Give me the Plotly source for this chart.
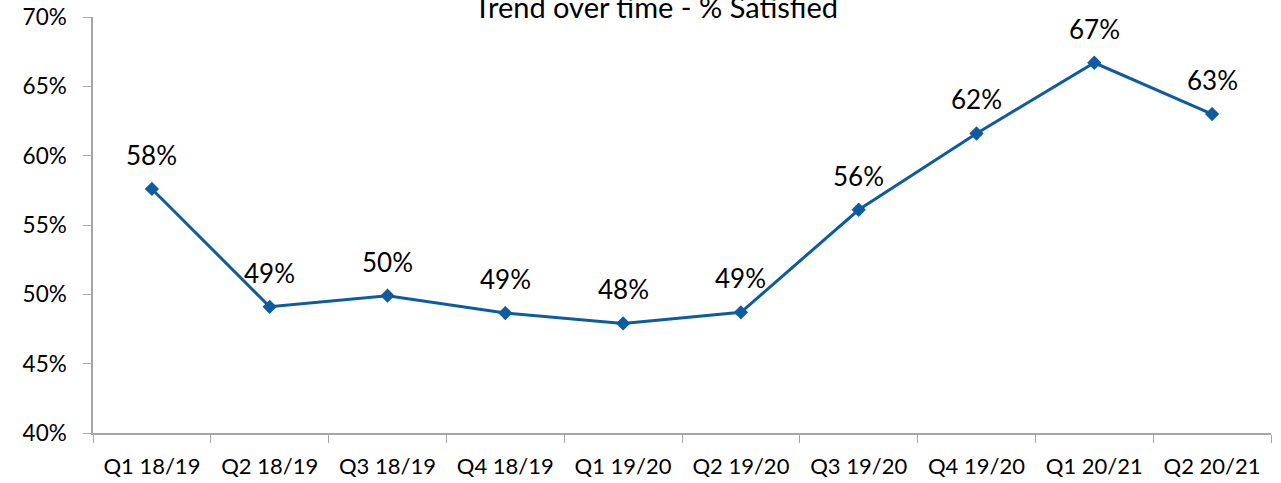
import plotly.graph_objects as go

categories = ["Q1 18/19", "Q2 18/19", "Q3 18/19", "Q4 18/19", "Q1 19/20",
              "Q2 19/20", "Q3 19/20", "Q4 19/20", "Q1 20/21", "Q2 20/21"]
satisfied = [0.576, 0.491, 0.499, 0.4865, 0.479, 0.487, 0.561, 0.616, 0.667, 0.630]
labels = ["58%", "49%", "50%", "49%", "48%", "49%", "56%", "62%", "67%", "63%"]
title_text = "Trend over time - % Satisfied"

FONT = "Lato, Open Sans, sans-serif"
COLOR = "#0d5ba1"

fig = go.Figure()
fig.add_trace(go.Scatter(
    x=categories, y=satisfied, mode="lines+markers",
    line=dict(color=COLOR, width=3),
    marker=dict(symbol="diamond", size=11, color=COLOR),
    hoverinfo="skip", showlegend=False,
))

for c, v, t in zip(categories, satisfied, labels):
    fig.add_annotation(x=c, y=v, text=t, showarrow=False, xanchor="center",
                       yanchor="middle", yshift=34,
                       font=dict(family=FONT, size=26, color="#000000"))

fig.add_annotation(xref="paper", yref="paper", x=0.478, y=1, text=title_text,
                   showarrow=False, xanchor="center", yanchor="middle", yshift=11,
                   font=dict(family=FONT, size=29, color="#000000"))

fig.update_layout(
    width=1281, height=483,
    margin=dict(l=93, r=10, t=17, b=50),
    plot_bgcolor="white", paper_bgcolor="white",
    font=dict(family=FONT, size=22, color="#000000"),
)
fig.update_xaxes(
    type="category", showgrid=False, showline=True, linecolor="#a6a6a6", linewidth=1.5,
    ticks="outside", tickson="boundaries", ticklen=8, tickcolor="#a6a6a6",
    tickfont=dict(family=FONT, size=22), range=[-0.5, 9.5], automargin=False,
    ticklabelstandoff=13,
)
fig.update_yaxes(
    range=[0.40, 0.70], dtick=0.05, tickformat=".0%", showgrid=False,
    showline=True, linecolor="#a6a6a6", linewidth=1.5, ticks="outside",
    ticklen=8, tickcolor="#a6a6a6", tickfont=dict(family=FONT, size=22.5),
    zeroline=False, automargin=False, ticklabelstandoff=12,
)

fig.write_html("out.html", config={"displayModeBar": False},
               post_script="document.body.style.margin='0';document.body.style.overflow='hidden';")
